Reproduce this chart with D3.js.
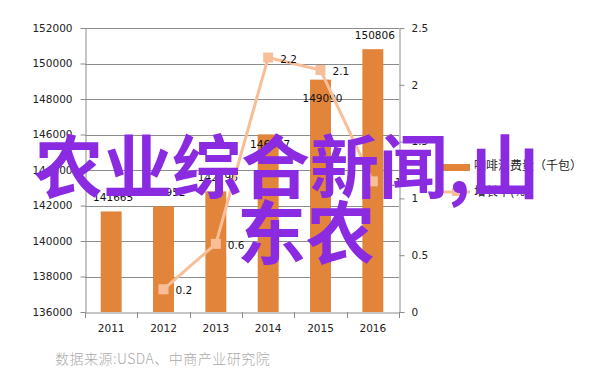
<!DOCTYPE html>
<html><head><meta charset="utf-8">
<script src="https://cdn.jsdelivr.net/npm/d3@7"></script>
<style>body{margin:0;background:#fff}svg{display:block}</style>
</head><body>
<svg id="c" width="602" height="384"></svg>
<script>
const years = ["2011","2012","2013","2014","2015","2016"];
const consumption = [141665, 141952, 142796, 146007, 149090, 150806];
const growthYears = ["2012","2013","2014","2015","2016"];
const growth = [0.2, 0.6, 2.24, 2.13, 1.15];
const leftTicks = [136000,138000,140000,142000,144000,146000,148000,150000,152000];
const rightTicks = [0,0.5,1,1.5,2,2.5];
const legendLabels = ["咖啡消费量（千包）","增长率(%)"];
const sourceText = "数据来源:USDA、中商产业研究院";
const overlayLines = ["农业综合新闻,山","东农"];

const svg = d3.select("#c");
const L=85, R=399, T=28, B=312;
const barColor="#E2843A", lineColor="#F7BE98", axisColor="#8c8c8c";
const numFont="DejaVu Sans, Verdana, sans-serif";

const x = d3.scaleBand().domain(years).range([L,R]).padding(0);
const yL = d3.scaleLinear().domain([136000,152000]).range([B,T]);
const yR = d3.scaleLinear().domain([0,2.5]).range([B,T]);

// gridlines
svg.append("g").selectAll("line").data(leftTicks.slice(1)).join("line")
  .attr("x1",L).attr("x2",R).attr("y1",d=>Math.round(yL(d))+0.5).attr("y2",d=>Math.round(yL(d))+0.5)
  .attr("stroke",axisColor).attr("stroke-width",1);

// bars
const bw = x.bandwidth()*0.4;
svg.append("g").selectAll("rect").data(consumption).join("rect")
  .attr("x",(d,i)=>x(years[i])+x.bandwidth()/2-bw/2)
  .attr("y",d=>yL(d)).attr("width",bw).attr("height",d=>B-yL(d))
  .attr("fill",barColor);

// axes
const axL = svg.append("g").attr("transform",`translate(${L+0.5},0)`)
  .call(d3.axisLeft(yL).tickValues(leftTicks).tickSize(5).tickSizeOuter(0).tickPadding(8).tickFormat(d3.format("d")));
const axR = svg.append("g").attr("transform",`translate(${R+0.5},0)`)
  .call(d3.axisRight(yR).tickValues(rightTicks).tickSize(5).tickSizeOuter(0).tickPadding(7).tickFormat(d3.format("~g")));
const axB = svg.append("g").attr("transform",`translate(0,${B+0.5})`)
  .call(d3.axisBottom(x).tickSize(0).tickSizeOuter(0).tickPadding(12));
[axL,axR,axB].forEach(a=>{
  a.selectAll("path,line").attr("stroke",axisColor);
  a.selectAll("text").attr("font-family",numFont).attr("font-size","10.5px").attr("fill","#222");
});
// category boundary ticks
svg.append("g").selectAll("line").data(years.concat(["end"])).join("line")
  .attr("x1",(d,i)=>Math.round(i<years.length?x(d):R)+0.5).attr("x2",(d,i)=>Math.round(i<years.length?x(d):R)+0.5)
  .attr("y1",B).attr("y2",B+6).attr("stroke",axisColor);

// bar labels
const labelShift = [0,0,0,24,32,0];
svg.append("g").selectAll("text").data(consumption).join("text")
  .attr("x",(d,i)=>x(years[i])+x.bandwidth()/2+2)
  .attr("y",(d,i)=>yL(d)-10+labelShift[i])
  .attr("text-anchor","middle").attr("font-family",numFont).attr("font-size","10.5px").attr("fill","#111")
  .text(d=>d);

// line
const cx = (d,i)=>x(growthYears[i])+x.bandwidth()/2;
svg.append("path").datum(growth)
  .attr("d",d3.line().x((d,i)=>cx(d,i)).y(d=>yR(d)))
  .attr("fill","none").attr("stroke",lineColor).attr("stroke-width",3);
svg.append("g").selectAll("rect").data(growth).join("rect")
  .attr("x",(d,i)=>cx(d,i)-5).attr("y",d=>yR(d)-5).attr("width",10).attr("height",10)
  .attr("fill",lineColor);
svg.append("g").selectAll("text").data(growth).join("text")
  .attr("x",(d,i)=>cx(d,i)+12).attr("y",d=>yR(d)+5)
  .attr("font-family",numFont).attr("font-size","10.5px").attr("fill","#111")
  .text(d=>d3.format(".1f")(d));

// legend
const lg = svg.append("g");
lg.append("rect").attr("x",442).attr("y",164).attr("width",28).attr("height",7).attr("fill",barColor);
lg.append("line").attr("x1",443).attr("x2",470).attr("y1",192).attr("y2",192).attr("stroke",lineColor).attr("stroke-width",3);
lg.append("rect").attr("x",452).attr("y",188).attr("width",8).attr("height",8).attr("fill",lineColor);
lg.selectAll("text").data(legendLabels).join("text")
  .attr("x",474).attr("y",(d,i)=>170+i*26)
  .attr("font-family","Noto Sans CJK SC, sans-serif").attr("font-size","12px").attr("fill","#222")
  .text(d=>d);

// source
svg.append("text").attr("x",55).attr("y",364)
  .attr("font-family","Noto Sans CJK SC, sans-serif").attr("font-weight",300)
  .attr("font-size","14px").attr("letter-spacing","0.5px").attr("fill","#ababab")
  .text(sourceText);

// overlay text
const ov = svg.append("g");
ov.selectAll("text").data(overlayLines).join("text")
  .attr("x",(d,i)=>i===0?34:237).attr("y",(d,i)=>i===0?193:259)
  .attr("font-family","Noto Sans CJK SC, sans-serif").attr("font-weight",700)
  .attr("font-size","69px").attr("fill","#8A2BE2")
  .text(d=>d);
</script>
</body></html>
